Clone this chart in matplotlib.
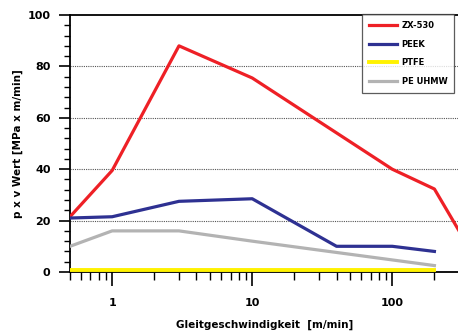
import matplotlib
matplotlib.use("Agg")
import matplotlib.pyplot as plt
from matplotlib.ticker import FixedLocator, NullFormatter, MultipleLocator

# data
speed_zx = [0.5, 1, 3, 10, 100, 200, 300]
pv_zx = [21.5, 39.5, 88, 75.5, 40, 32.3, 16]

speed_peek = [0.5, 1, 3, 10, 40, 100, 200]
pv_peek = [21, 21.5, 27.5, 28.5, 10, 10, 8]

speed_ptfe = [0.5, 200]
pv_ptfe = [0.7, 0.7]

speed_pe = [0.5, 1, 3, 10, 200]
pv_pe = [10, 16, 16, 12, 2.5]

labels = ["ZX-530", "PEEK", "PTFE", "PE UHMW"]
colors = ["#ee2026", "#2e3192", "#fff200", "#b3b3b3"]

plt.rcParams["font.family"] = "DejaVu Sans"
plt.rcParams["font.weight"] = "bold"

W, H = 458, 334
fig = plt.figure(figsize=(W / 100, H / 100), dpi=100)
ax = fig.add_axes([70 / W, 62 / H, (463 - 70) / W, (272 - 15) / H])

ax.set_xscale("log")
ax.set_xlim(0.5, 320)
ax.set_ylim(0, 100)

for y in [0, 20, 40, 60, 80]:
    ax.axhline(y, color="#555555", lw=0.8, ls=(0, (1, 1)), zorder=1)

lw = 2.3
ax.plot(speed_zx, pv_zx, color=colors[0], lw=lw, label=labels[0], zorder=3)
ax.plot(speed_peek, pv_peek, color=colors[1], lw=lw, label=labels[1], zorder=3)
ax.plot(speed_ptfe, pv_ptfe, color=colors[2], lw=2.8, label=labels[2], zorder=3)
ax.plot(speed_pe, pv_pe, color=colors[3], lw=lw, label=labels[3], zorder=3)

ax.xaxis.set_major_locator(FixedLocator([1, 10, 100]))
ax.set_xticklabels(["1", "10", "100"])
ax.xaxis.set_minor_locator(FixedLocator([0.5, 0.6, 0.7, 0.8, 0.9, 2, 3, 4, 5, 6, 7, 8, 9,
                                         20, 30, 40, 50, 60, 70, 80, 90, 200, 300]))
ax.xaxis.set_minor_formatter(NullFormatter())
ax.yaxis.set_major_locator(MultipleLocator(20))
ax.yaxis.set_minor_locator(MultipleLocator(4))

ax.tick_params(axis="x", which="major", direction="out", length=10, width=1.2,
               pad=9, labelsize=8)
ax.tick_params(axis="x", which="minor", direction="out", length=6, width=1.0)
ax.tick_params(axis="y", which="major", direction="out", length=8, width=1.2,
               pad=6, labelsize=8)
ax.tick_params(axis="y", which="minor", direction="out", length=4, width=1.0)
for lab in ax.get_xticklabels() + ax.get_yticklabels():
    lab.set_fontweight("bold")

for side in ["left", "bottom", "top"]:
    ax.spines[side].set_linewidth(1.3)
ax.spines["right"].set_visible(False)

ax.set_ylabel("p x v Wert [MPa x m/min]", fontsize=7.5, fontweight="bold", labelpad=3)
fig.text(265 / W, 1 - 325 / H, "Gleitgeschwindigkeit  [m/min]", fontsize=7.5,
         fontweight="bold", ha="center", va="center")

leg = ax.legend(loc="upper left", bbox_to_anchor=(362 / W, 1 - 14 / H),
                bbox_transform=fig.transFigure, borderaxespad=0, fontsize=6,
                frameon=True, fancybox=False, edgecolor="#333333",
                handlelength=3.3, handletextpad=0.6, labelspacing=1.15,
                borderpad=0.85)
leg.get_frame().set_linewidth(0.9)
for t in leg.get_texts():
    t.set_fontweight("bold")
leg.set_zorder(5)

fig.savefig("out.png", dpi=100)
